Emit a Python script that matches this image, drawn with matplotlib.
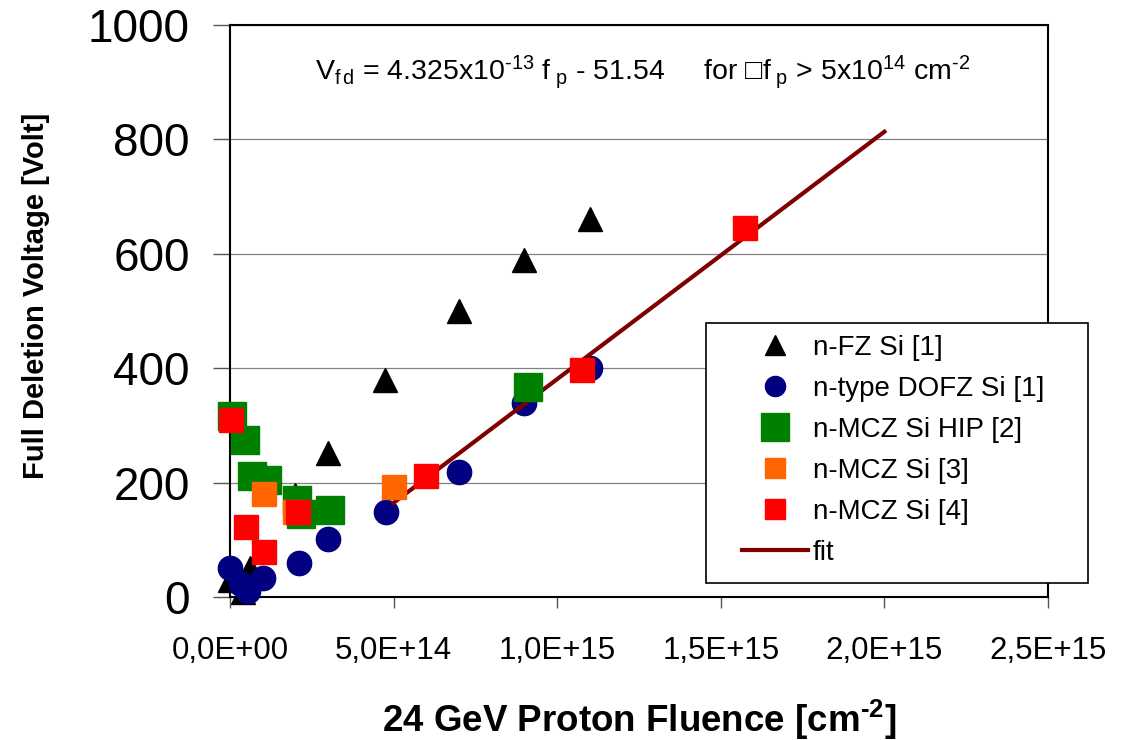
import numpy as np
import matplotlib
matplotlib.use("Agg")
import matplotlib.pyplot as plt
from matplotlib.patches import Rectangle

plt.rcParams["font.family"] = ["Liberation Sans", "DejaVu Sans"]
plt.rcParams["mathtext.fontset"] = "custom"
plt.rcParams["mathtext.rm"] = "Liberation Sans"
plt.rcParams["mathtext.bf"] = "Liberation Sans:bold"
plt.rcParams["mathtext.it"] = "Liberation Sans:italic"

# data (fluence in cm^-2, voltage in V)
fz_fluence = [0.0, 0.04e15, 0.06e15, 0.2e15, 0.3e15, 0.475e15, 0.7e15, 0.9e15, 1.1e15]
fz_volt = [30, 8, 50, 178, 252, 380, 500, 590, 660]

dofz_fluence = [0.0, 0.035e15, 0.055e15, 0.1e15, 0.21e15, 0.3e15, 0.477e15, 0.7e15, 0.9e15, 1.1e15]
dofz_volt = [50, 22, 10, 33, 59, 101, 149, 218, 340, 400]

hip_fluence = [0.006e15, 0.046e15, 0.068e15, 0.113e15, 0.205e15, 0.217e15, 0.306e15, 0.91e15]
hip_volt = [316, 274, 211, 204, 170, 145, 152, 367]

mcz3_fluence = [0.104e15, 0.2e15, 0.5e15]
mcz3_volt = [180, 149, 192]

mcz4_fluence = [0.003e15, 0.049e15, 0.104e15, 0.208e15, 0.6e15, 1.076e15, 1.575e15]
mcz4_volt = [309, 122, 79, 149, 211, 397, 645]

fit_slope = 4.325e-13
fit_offset = -51.54
fit_range = [5e14, 2e15]

x_ticks = [0, 5e14, 1e15, 1.5e15, 2e15, 2.5e15]
y_ticks = [0, 200, 400, 600, 800, 1000]

W, H = 1130, 740
fig = plt.figure(figsize=(W / 100, H / 100), dpi=100)
ax = fig.add_axes([230 / W, 1 - 597 / H, 818 / W, 572 / H])

ax.grid(axis="y", color="#808080", linewidth=0.9, zorder=0)
ax.set_axisbelow(True)

ax.plot(fz_fluence, fz_volt, linestyle="none", marker="^", markersize=17.5,
        color="black", label="n-FZ Si [1]", clip_on=False, zorder=3)
ax.plot(dofz_fluence, dofz_volt, linestyle="none", marker="o", markersize=17.5,
        color="#000080", label="n-type DOFZ Si [1]", clip_on=False, zorder=4)

fit_x = np.array(fit_range)
ax.plot(fit_x, fit_slope * fit_x + fit_offset, color="#800000", linewidth=3,
        label="fit", zorder=5)

ax.plot(hip_fluence, hip_volt, linestyle="none", marker="s", markersize=19.5,
        color="#008000", label="n-MCZ Si HIP [2]", clip_on=False, zorder=6)
ax.plot(mcz3_fluence, mcz3_volt, linestyle="none", marker="s", markersize=17.5,
        color="#FF6600", label="n-MCZ Si [3]", clip_on=False, zorder=7)
ax.plot(mcz4_fluence, mcz4_volt, linestyle="none", marker="s", markersize=17.5,
        color="#FF0000", label="n-MCZ Si [4]", clip_on=False, zorder=8)

ax.set_xlim(0, 2.5e15)
ax.set_ylim(0, 1000)
ax.set_xticks(x_ticks)
ax.set_xticklabels([f"{v:.1E}".replace(".", ",") for v in x_ticks])
ax.set_yticks(y_ticks)
ax.set_yticklabels([str(v) for v in y_ticks])
ax.tick_params(axis="y", labelsize=33, length=12, width=1, color="#555555",
               pad=17, direction="out")
ax.tick_params(axis="x", labelsize=22.5, length=8, width=1, color="#555555",
               pad=20, direction="out")

for sp in ax.spines.values():
    sp.set_color("black")
    sp.set_linewidth(1.5)

ax.set_xlabel(r"24 GeV Proton Fluence [cm$^{\mathbf{‐2}}$]", fontsize=26.5,
              fontweight="bold")
ax.xaxis.set_label_coords(0.5, -0.176)
ax.set_ylabel("Full Deletion Voltage [Volt]", fontsize=21, fontweight="bold")
ax.yaxis.set_label_coords(-0.22, 0.526)

ax.text(1.26e15, 904,
        r"V$_{\rm f\,d}$ = 4.325x10$^{\rm ‐13}$ f$_{\rm \ p}$ - 51.54     "
        r"for □f$_{\rm \ p}$ > 5x10$^{\rm 14}$ cm$^{\rm ‐2}$",
        fontsize=20.5, ha="center", va="baseline")

# legend frame drawn by hand, entries placed inside it
fig.add_artist(Rectangle((706 / W, 1 - 583 / H), 382 / W, 260 / H,
                         transform=fig.transFigure, facecolor="white",
                         edgecolor="black", linewidth=1.2, zorder=4))

handles, labels = ax.get_legend_handles_labels()
order = ["n-FZ Si [1]", "n-type DOFZ Si [1]", "n-MCZ Si HIP [2]",
         "n-MCZ Si [3]", "n-MCZ Si [4]", "fit"]
hmap = dict(zip(labels, handles))
leg = fig.legend([hmap[k] for k in order], order, loc="upper left",
                 bbox_to_anchor=(742 / W, 1 - 335 / H), fontsize=20,
                 frameon=False, borderpad=0, labelspacing=0.54,
                 handlelength=2.38, handletextpad=0.18, borderaxespad=0)
leg.set_zorder(5)
for h in leg.legend_handles:
    if h.get_marker() in ("^", "o") or (h.get_marker() == "s" and h.get_color() != "#008000"):
        h.set_markersize(14.5)

fig.savefig("out.png", dpi=100)
